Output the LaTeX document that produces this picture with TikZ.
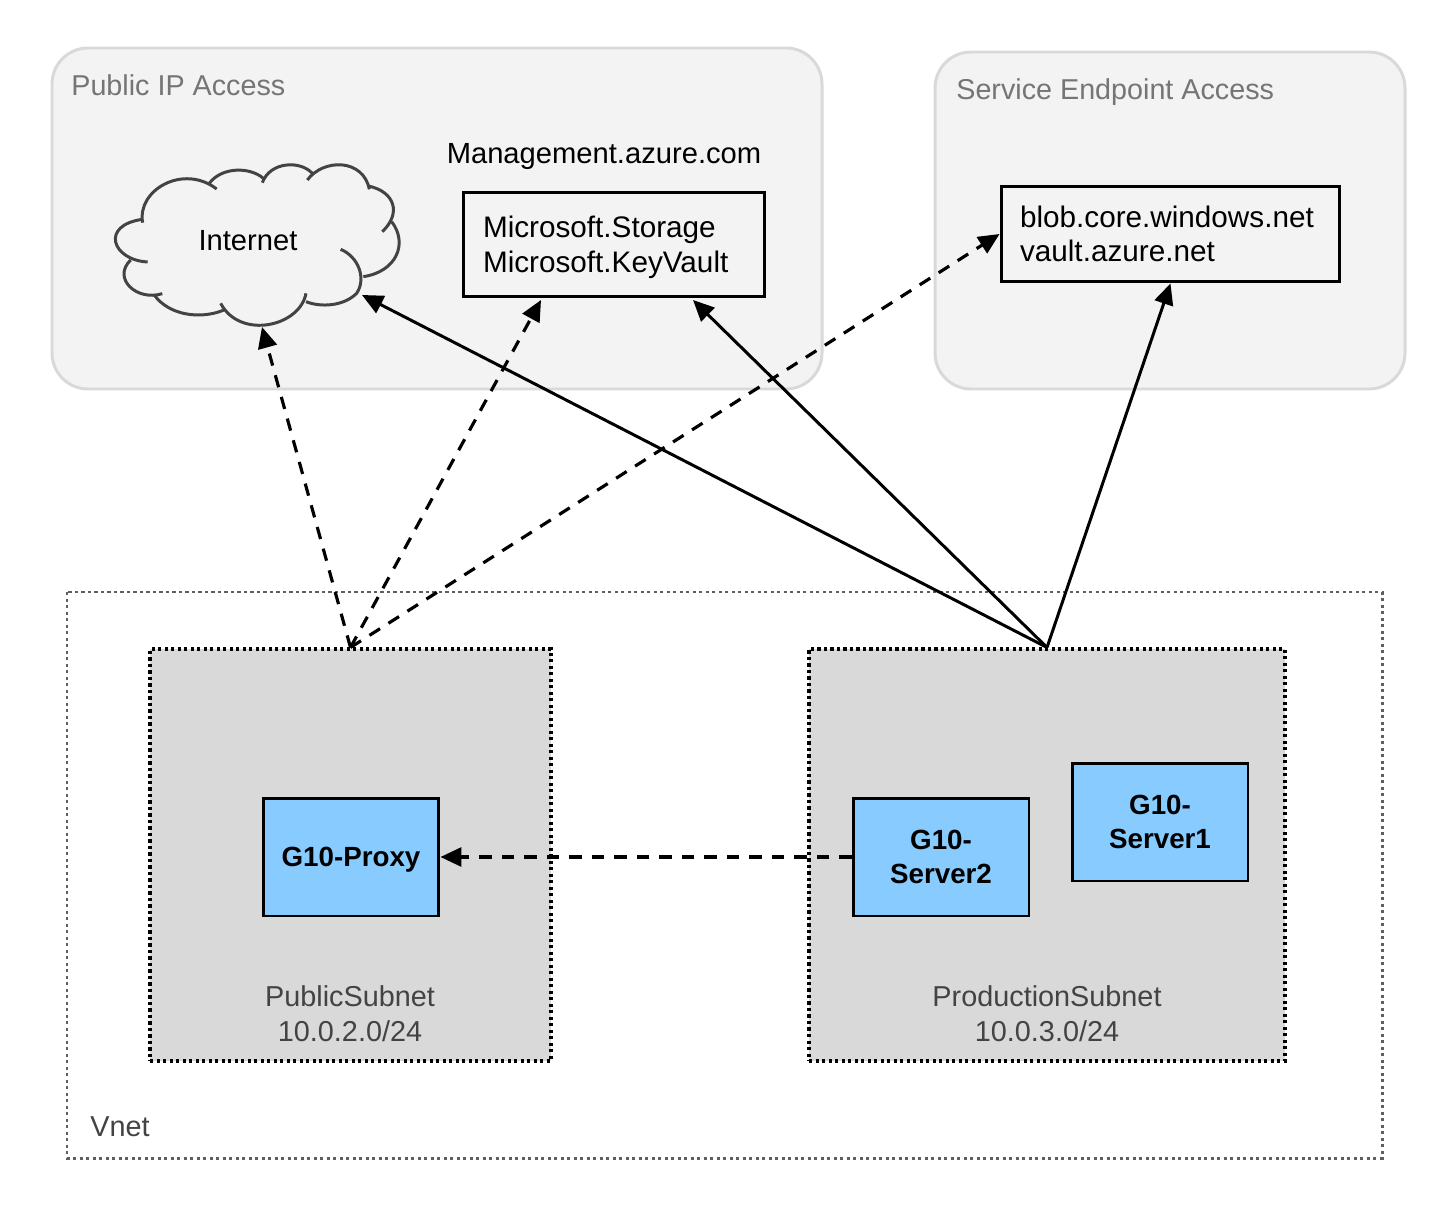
\documentclass[tikz,border=0pt]{standalone}
\usepackage{fontspec}
\setmainfont{Liberation Sans}
\usepackage{tikz}
\usetikzlibrary{positioning,arrows.meta}

\definecolor{zonefill}{HTML}{F3F3F3}
\definecolor{zoneline}{HTML}{D9D9D9}
\definecolor{zonetext}{HTML}{757575}
\definecolor{subnetfill}{HTML}{D9D9D9}
\definecolor{subnettext}{HTML}{434343}
\definecolor{vmfill}{HTML}{87CBFF}

\newcommand{\nodepth}[1]{\raisebox{0pt}[\height][0pt]{#1}}

\tikzset{
    zone/.style={draw=zoneline, fill=zonefill, line width=1.7pt, rounded corners=0.72cm},
    zonelabel/.style={anchor=west, inner sep=0pt, text=zonetext, font=\fontsize{16.35}{20}\selectfont},
    dnsbox/.style={draw=black, line width=1.7pt, align=left, inner sep=0pt, font=\fontsize{16.9}{19.7}\selectfont},
    subnet/.style={draw=black, fill=subnetfill, line width=1.8pt, dash pattern=on 1.8pt off 1.9pt},
    vmbox/.style={draw=black, fill=vmfill, line width=1.7pt, align=center, inner sep=0pt, minimum width=3.52cm, minimum height=2.36cm, font=\fontsize{15.8}{19.8}\selectfont\bfseries},
    netlabel/.style={align=center, inner sep=0pt, text=subnettext, font=\fontsize{16.4}{19.8}\selectfont},
    cloudline/.style={draw=subnettext, line width=1.7pt},
    direct/.style={-{Triangle[length=0.42cm,width=0.38cm]}, line width=1.7pt},
    proxied/.style={direct, line width=1.8pt, dash pattern=on 0.25cm off 0.2cm}
}

\begin{document}
\begin{tikzpicture}[x=0.02cm, y=-0.02cm]
\useasboundingbox (0,0) rectangle (1450,1209);

% Access zones
\draw[zone] (52,48) rectangle (822,389);
\draw[zone] (935,52) rectangle (1405,389);
\node[zonelabel] (publiclabel) at (71,85) {Public IP Access};
\node[zonelabel] (servicelabel) at (956,92) {Service Endpoint Access};

% Cloud
\begin{scope}[shift={(100,150)}, x=0.006667cm, y=-0.006667cm]
\draw[cloudline] (128,218) .. controls (110,120) and (250,40) .. (350,117);
\draw[cloudline] (328,100) .. controls (365,50) and (450,50) .. (490,85);
\draw[cloudline] (487,98) .. controls (510,35) and (600,30) .. (637,70);
\draw[cloudline] (622,90) .. controls (670,25) and (790,25) .. (808,118);
\draw[cloudline] (805,108) .. controls (885,125) and (905,190) .. (847,245);
\draw[cloudline] (875,215) .. controls (925,280) and (890,365) .. (790,380);
\draw[cloudline] (722,298) .. controls (775,320) and (800,385) .. (770,430) .. controls (730,470) and (660,472) .. (618,455);
\draw[cloudline] (618,430) .. controls (600,530) and (420,570) .. (362,460);
\draw[cloudline] (372,480) .. controls (300,510) and (205,495) .. (163,435);
\draw[cloudline] (187,431) .. controls (110,455) and (35,385) .. (92,330);
\draw[cloudline] (143,336) .. controls (35,330) and (0,225) .. (128,208);
\end{scope}
\node[font=\fontsize{16.6}{20}\selectfont, inner sep=0pt] (internet) at (248,241) {Internet};
\coordinate (internetbelow) at (262,327);
\coordinate (internetright) at (362,295);

% Service names
\node[font=\fontsize{16.6}{20}\selectfont, inner sep=0pt] (mgmt) at (604,153) {\nodepth{Management.azure.com}};
\node[dnsbox, minimum width=6.04cm, minimum height=2.1cm, text width=5.24cm] (storage) at (614,244.5) {Microsoft.Storage\\\smash{Microsoft.KeyVault}};
\node[dnsbox, minimum width=6.78cm, minimum height=1.92cm, text width=6.02cm] (blob) at (1170.5,234) {blob.core.windows.net\\vault.azure.net};
\coordinate (storagedash) at (541,300);
\coordinate (storagesolid) at (693,300);

% Vnet
\draw[draw=subnettext!85, line width=1.7pt, dash pattern=on 1.8pt off 1.9pt] (67,592) rectangle (1382,1158);
\node[netlabel, anchor=west] (vnet) at (90,1127) {Vnet};

% Subnets
\node[subnet, minimum width=8.02cm, minimum height=8.24cm] (publicsubnet) at (350.5,855) {};
\node[subnet, minimum width=9.52cm, minimum height=8.24cm] (prodsubnet) at (1047,855) {};
\node[netlabel] (publicname) at (350,1013.5) {PublicSubnet\\10.0.2.0/24};
\node[netlabel] (prodname) at (1047,1013.5) {ProductionSubnet\\10.0.3.0/24};

% Machines
\node[vmbox] (proxy) at (351,857) {\nodepth{G10-Proxy}};
\node[vmbox] (server2) at (941,857) {G10-\\Server2};
\node[vmbox] (server1) at (1160,822) {G10-\\Server1};

% Connections
\draw[proxied] (publicsubnet.north) -- (internetbelow);
\draw[proxied] (publicsubnet.north) -- (storagedash);
\draw[proxied] (publicsubnet.north) -- (blob.west);
\draw[direct] (prodsubnet.north) -- (internetright);
\draw[direct] (prodsubnet.north) -- (storagesolid);
\draw[direct] (prodsubnet.north) -- (blob.south);
\draw[proxied] (server2.west) -- (proxy.east);
\end{tikzpicture}
\end{document}
